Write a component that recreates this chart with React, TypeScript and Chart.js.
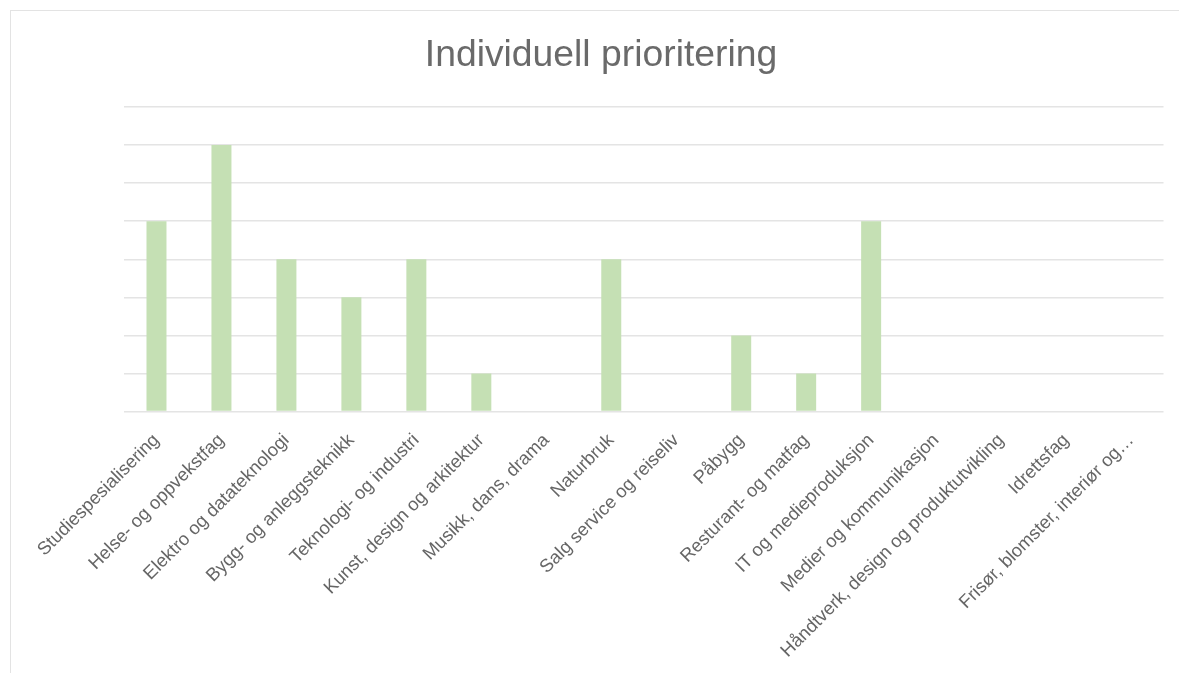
import React, { useEffect, useRef } from "react";
import { Chart, registerables } from "chart.js";

Chart.register(...registerables);

const categories: string[] = [
  "Studiespesialisering",
  "Helse- og oppvekstfag",
  "Elektro og datateknologi",
  "Bygg- og anleggsteknikk",
  "Teknologi- og industri",
  "Kunst, design og arkitektur",
  "Musikk, dans, drama",
  "Naturbruk",
  "Salg service og reiseliv",
  "Påbygg",
  "Resturant- og matfag",
  "IT og medieproduksjon",
  "Medier og kommunikasjon",
  "Håndtverk, design og produktutvikling",
  "Idrettsfag",
  "Frisør, blomster, interiør og…",
];

const values: number[] = [5, 7, 4, 3, 4, 1, 0, 4, 0, 2, 1, 5, 0, 0, 0, 0];

const titleText = "Individuell prioritering";

export default function App() {
  const ref = useRef<HTMLCanvasElement | null>(null);

  useEffect(() => {
    if (!ref.current) return;
    const chart = new Chart(ref.current, {
      type: "bar",
      data: {
        labels: categories,
        datasets: [
          {
            data: values,
            backgroundColor: "#c5e0b4",
            borderWidth: 0,
            categoryPercentage: 1,
            barPercentage: 0.3077,
          },
        ],
      },
      options: {
        responsive: false,
        animation: false,
        layout: { padding: 0 },
        plugins: {
          legend: { display: false },
          tooltip: { enabled: false },
          title: {
            display: true,
            text: titleText,
            color: "#6a6a6a",
            font: { family: "'Liberation Sans', Arial, sans-serif", size: 37.3, weight: "normal" },
            padding: { top: 22.8, bottom: 28.5 },
          },
        },
        scales: {
          x: {
            grid: { display: false },
            border: { display: false },
            ticks: {
              autoSkip: false,
              maxRotation: 45,
              minRotation: 45,
              color: "#666666",
              padding: 10,
              font: { family: "'Liberation Sans', Arial, sans-serif", size: 18.4 },
            },
            afterFit: (s: any) => {
              s.height = 261.5;
            },
          },
          y: {
            min: 0,
            max: 8,
            ticks: { display: false, stepSize: 1 },
            border: { display: false },
            grid: { color: "#e4e4e4", lineWidth: 1.5, drawTicks: false },
            afterFit: (s: any) => {
              s.width = 113;
            },
          },
          y2: {
            position: "right",
            display: true,
            ticks: { display: false },
            border: { display: false },
            grid: { display: false, drawTicks: false },
            afterFit: (s: any) => {
              s.width = 27.5;
            },
          },
        },
      },
    });
    return () => chart.destroy();
  }, []);

  return (
    <div
      style={{
        position: "fixed",
        left: 0,
        top: 0,
        width: 1179,
        height: 673,
        overflow: "hidden",
        background: "#ffffff",
      }}
    >
      <div
        style={{
          position: "absolute",
          left: 10,
          top: 10,
          width: 1200,
          height: 700,
          border: "1px solid #e3e3e3",
          boxSizing: "border-box",
        }}
      >
        <canvas
          ref={ref}
          width={1180}
          height={662}
          style={{ position: "absolute", left: 0, top: 0, width: 1180, height: 662 }}
        />
      </div>
    </div>
  );
}
